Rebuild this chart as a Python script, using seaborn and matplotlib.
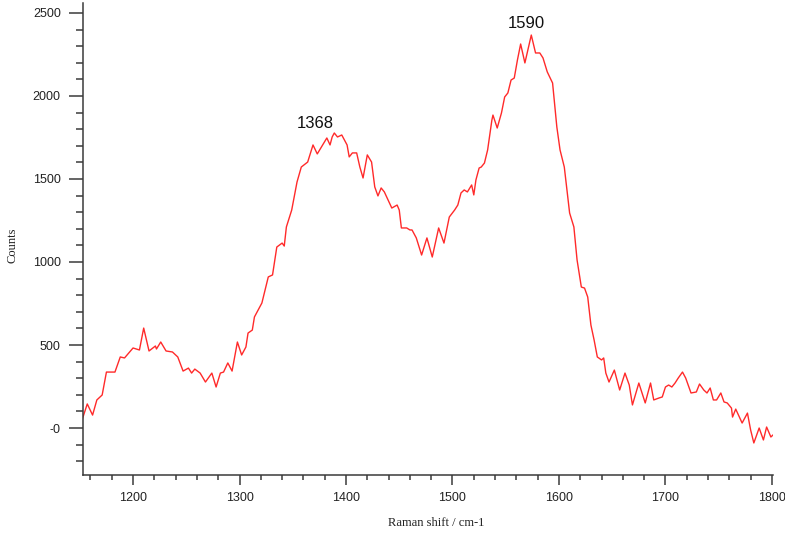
import matplotlib
matplotlib.use("Agg")
import matplotlib.pyplot as plt
from matplotlib.ticker import MultipleLocator
import seaborn as sns
import pandas as pd

# Raman spectrum (shift in cm-1, intensity in counts)
raman_shift = [
    1151, 1153, 1157, 1162, 1166, 1171, 1175, 1180, 1183, 1188, 1192, 1200,
    1206, 1210, 1215, 1221, 1222, 1226, 1231, 1237, 1242, 1247, 1252, 1255,
    1258, 1263, 1268, 1274, 1278, 1282, 1285, 1289, 1293, 1298, 1302, 1306,
    1308, 1312, 1314, 1321, 1327, 1331, 1335, 1340, 1342, 1344, 1349, 1354,
    1358, 1364, 1369, 1373, 1378, 1382, 1385, 1387, 1389, 1392, 1396, 1401,
    1403, 1406, 1410, 1413, 1416, 1420, 1424, 1427, 1430, 1433, 1436, 1443,
    1448, 1450, 1452, 1457, 1460, 1462, 1466, 1471, 1476, 1481, 1487, 1492,
    1497, 1502, 1505, 1508, 1511, 1514, 1518, 1520, 1522, 1525, 1527, 1530,
    1533, 1537, 1538, 1542, 1546, 1549, 1552, 1555, 1558, 1561, 1564, 1568,
    1574, 1578, 1582, 1585, 1589, 1594, 1598, 1601, 1605, 1610, 1614, 1617,
    1621, 1624, 1627, 1630, 1633, 1636, 1640, 1642, 1644, 1647, 1652, 1657,
    1662, 1666, 1669, 1675, 1681, 1686, 1689, 1694, 1697, 1700, 1703, 1706,
    1709, 1712, 1716, 1719, 1724, 1729, 1732, 1736, 1739, 1742, 1745, 1748,
    1752, 1755, 1758, 1762, 1763, 1766, 1772, 1777, 1780, 1783, 1788, 1792,
    1795, 1799, 1802,
]
counts = [
    30, 66, 145, 78, 169, 199, 337, 337, 337, 428, 422, 482,
    470, 602, 464, 494, 476, 518, 464, 458, 428, 343, 361, 331,
    355, 331, 277, 331, 247, 331, 337, 392, 343, 518, 440, 488,
    572, 590, 669, 753, 910, 922, 1090, 1114, 1096, 1211, 1313, 1482,
    1572, 1602, 1705, 1651, 1705, 1747, 1705, 1753, 1777, 1753, 1765, 1705,
    1633, 1657, 1657, 1572, 1506, 1645, 1602, 1452, 1398, 1446, 1422, 1325,
    1343, 1313, 1205, 1205, 1193, 1193, 1145, 1042, 1145, 1030, 1205, 1114,
    1271, 1313, 1343, 1416, 1434, 1422, 1464, 1404, 1494, 1566, 1572, 1596,
    1675, 1855, 1885, 1807, 1898, 1994, 2018, 2096, 2108, 2217, 2313, 2199,
    2367, 2259, 2259, 2229, 2145, 2078, 1813, 1675, 1572, 1295, 1211, 1012,
    849, 843, 789, 620, 530, 428, 410, 422, 331, 277, 349, 229,
    331, 259, 139, 271, 151, 271, 169, 181, 187, 247, 259, 247,
    271, 301, 337, 301, 211, 217, 265, 229, 211, 241, 169, 169,
    211, 157, 151, 120, 66, 114, 30, 90, -12, -90, 0, -72,
    6, -54, -36,
]

# Peak annotations
peak_labels = ["1368", "1590"]
peak_label_x = [1371, 1569]
peak_label_y = [1790, 2390]

y_ticks = [0, 500, 1000, 1500, 2000, 2500]
y_tick_labels = ["-0", "500", "1000", "1500", "2000", "2500"]
x_ticks = [1200, 1300, 1400, 1500, 1600, 1700, 1800]

df = pd.DataFrame({"shift": raman_shift, "counts": counts})

sns.set_style("ticks")
fig = plt.figure(figsize=(7.85, 5.35), dpi=100)
ax = fig.add_axes([83 / 785, 1 - 475 / 535, 690 / 785, 472 / 535])

sns.lineplot(data=df, x="shift", y="counts", ax=ax, color="#ff2a2a",
             linewidth=1.0, sort=False, estimator=None)

ax.set_xlim(1153, 1801)
ax.set_ylim(-283, 2560)

spine_color = "#3a3a3a"
for side in ("top", "right"):
    ax.spines[side].set_visible(False)
for side in ("left", "bottom"):
    ax.spines[side].set_color(spine_color)
    ax.spines[side].set_linewidth(1.1)

tick_font = {"family": "Liberation Sans", "size": 9, "color": "#222222"}
ax.set_yticks(y_ticks)
ax.set_yticklabels(y_tick_labels, fontdict=tick_font)
ax.set_xticks(x_ticks)
ax.set_xticklabels([str(t) for t in x_ticks], fontdict=tick_font)
ax.yaxis.set_minor_locator(MultipleLocator(100))
ax.xaxis.set_minor_locator(MultipleLocator(20))

ax.tick_params(axis="y", which="major", length=10, width=1.1, color=spine_color, pad=6)
ax.tick_params(axis="y", which="minor", length=5, width=1.1, color=spine_color)
ax.tick_params(axis="x", which="major", length=7, width=1.1, color=spine_color, pad=5)
ax.tick_params(axis="x", which="minor", length=3.5, width=1.1, color=spine_color)

label_font = {"family": "Liberation Serif", "size": 9, "color": "#222222"}
ax.set_xlabel("Raman shift / cm-1", fontdict=label_font)
ax.set_ylabel("Counts", fontdict=label_font)
ax.xaxis.set_label_coords(0.512, -0.09)
ax.yaxis.set_label_coords(-0.094, 0.487)

for txt, px, py in zip(peak_labels, peak_label_x, peak_label_y):
    ax.text(px, py, txt, ha="center", va="bottom", fontsize=12,
            family="Liberation Sans", color="#111111")

fig.savefig("out.png", dpi=100)
